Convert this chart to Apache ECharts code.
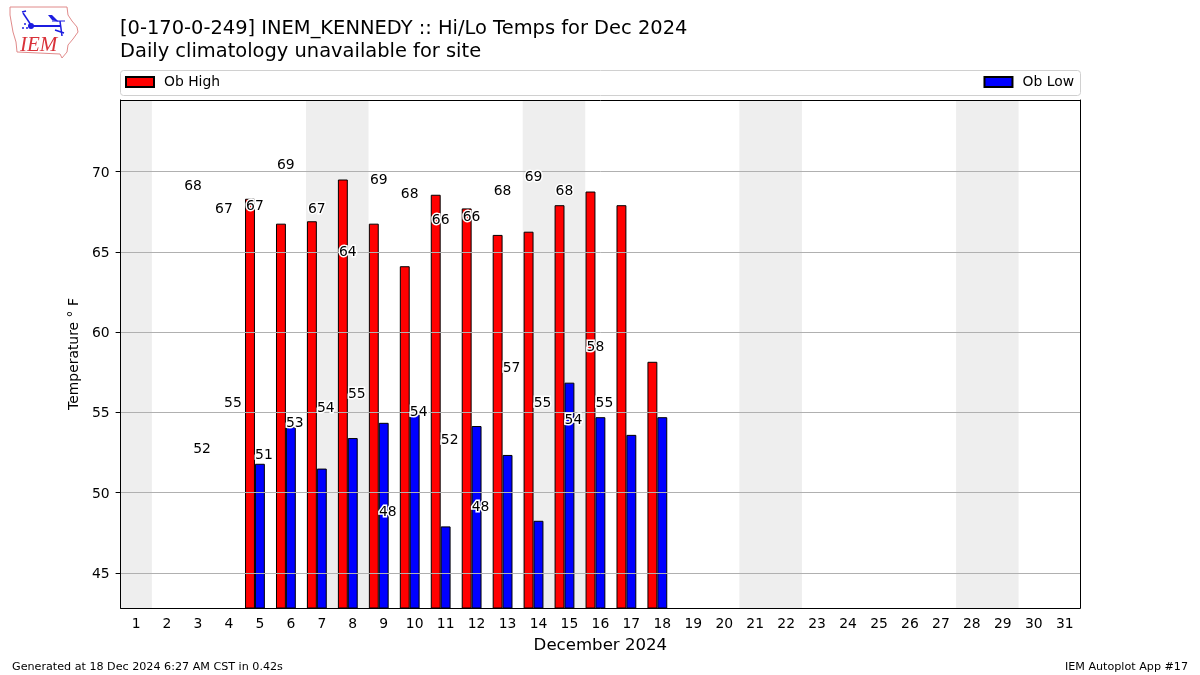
<!DOCTYPE html>
<html><head><meta charset="utf-8">
<style>html,body{margin:0;padding:0;background:#fff}#c{width:1200px;height:675px}</style>
<script src="https://cdn.jsdelivr.net/npm/echarts@6/dist/echarts.min.js"></script>
</head><body><div id="c"></div>
<script>
const days = ['1','2','3','4','5','6','7','8','9','10','11','12','13','14','15','16','17','18','19','20','21','22','23','24','25','26','27','28','29','30','31'];
const weekendDays = ['1','7','8','14','15','21','22','28','29'];
const barDays = ['5','6','7','8','9','10','11','12','13','14','15','16','17','18'];
const obHigh = [68.3,66.75,66.9,69.5,66.75,64.1,68.55,67.7,66.05,66.25,67.9,68.75,67.9,58.15];
const obLow = [51.8,54.1,51.5,53.4,54.35,54.9,47.9,54.15,52.35,48.25,56.85,54.7,53.6,54.7];
const labelDays = ['3','4','5','6','7','8','9','10','11','12','13','14','15','16'];
const highLabels = [68,67,67,69,67,64,69,68,66,66,68,69,68,58];
const highLabelY = [69.19,67.76,67.94,70.5,67.76,65.07,69.56,68.69,67.07,67.26,68.88,69.75,68.88,59.15];
const lowLabels = [52,55,51,53,54,55,48,54,52,48,57,55,54,55];
const lowLabelY = [52.79,55.66,52.42,54.41,55.35,56.22,48.87,55.10,53.35,49.18,57.84,55.66,54.60,55.66];
const yTicks = [45,50,55,60,65,70];
const yMin = 42.82, yMax = 74.45;

const FONT = '"DejaVu Sans"';
const pick = (ds, vs) => days.map(d => { const i = ds.indexOf(d); return i < 0 ? null : vs[i]; });
const labelSeries = (ys, texts, dx) => ({
  type: 'scatter', xAxisIndex: 0, yAxisIndex: 0, z: 6, symbolSize: 0.01, silent: true,
  itemStyle: { color: 'transparent', opacity: 1 },
  data: labelDays.map((d, i) => [d, ys[i], texts[i]]),
  label: { show: true, position: 'inside', offset: [dx, 2], fontFamily: FONT, fontSize: 13.9, color: '#000',
    textBorderColor: '#fff', textBorderWidth: 3, formatter: p => String(p.value[2]) }
});
const BLUE = '#1c1ce0';
const chart = echarts.init(document.getElementById('c'), null, { renderer: 'canvas' });
chart.setOption({
  animation: false,
  textStyle: { fontFamily: FONT },
  title: [
    { text: '[0-170-0-249] INEM_KENNEDY :: Hi/Lo Temps for Dec 2024\nDaily climatology unavailable for site', left: 115, top: 12,
      textStyle: { fontFamily: FONT, fontSize: 19.44, fontWeight: 'normal', color: '#000', lineHeight: 23 } },
    { text: 'Generated at 18 Dec 2024 6:27 AM CST in 0.42s', left: 7, top: 657,
      textStyle: { fontFamily: FONT, fontSize: 11.15, fontWeight: 'normal', color: '#000' } },
    { text: 'IEM Autoplot App #17', right: 7, top: 657,
      textStyle: { fontFamily: FONT, fontSize: 11.15, fontWeight: 'normal', color: '#000' } }
  ],
  legend: [
    { data: ['Ob High'], left: 120, top: 70, icon: 'rect', itemWidth: 28, itemHeight: 10, textStyle: { fontFamily: FONT, fontSize: 13.9, color: '#000', padding: [0,0,0,5] } },
    { data: ['Ob Low'], right: 121, top: 70, icon: 'rect', itemWidth: 28, itemHeight: 10, textStyle: { fontFamily: FONT, fontSize: 13.9, color: '#000', padding: [0,0,0,5] } }
  ],
  grid: { left: 120.6, top: 100, width: 959.6, height: 508, containLabel: false },
  xAxis: [
    { type: 'category', data: days, position: 'bottom', z: 4,
      name: 'December 2024', nameLocation: 'middle', nameGap: 29, nameTextStyle: { fontFamily: FONT, fontSize: 16.6, color: '#000' },
      axisLine: { onZero: false, lineStyle: { color: '#000', width: 1 } },
      axisTick: { alignWithLabel: true, length: 5, lineStyle: { color: '#000' } },
      axisLabel: { interval: 0, margin: 9, fontFamily: FONT, fontSize: 13.9, color: '#000' }, splitLine: { show: false } },
    { type: 'category', data: days, position: 'top', z: 4,
      axisLine: { onZero: false, lineStyle: { color: '#000', width: 1 } }, axisTick: { show: false }, axisLabel: { show: false }, splitLine: { show: false } }
  ],
  yAxis: [
    { type: 'value', min: yMin, max: yMax, interval: 5, position: 'left', z: 4,
      name: 'Temperature ° F', nameLocation: 'middle', nameGap: 36, nameTextStyle: { fontFamily: FONT, fontSize: 13.9, color: '#000' },
      axisLine: { onZero: false, show: true, lineStyle: { color: '#000', width: 1 } },
      axisTick: { show: true, length: 5, lineStyle: { color: '#000' }, customValues: yTicks },
      axisLabel: { margin: 11, fontFamily: FONT, fontSize: 13.9, color: '#000', customValues: yTicks, showMinLabel: true, showMaxLabel: true,
        formatter: '{v|{value}}', rich: { v: { fontFamily: FONT, fontSize: 13.9, color: '#000', padding: [3,0,0,0] } } },
      splitLine: { show: true, lineStyle: { color: '#b0b0b0', width: 1 } } },
    { type: 'value', min: yMin, max: yMax, position: 'right', z: 4,
      axisLine: { onZero: false, show: true, lineStyle: { color: '#000', width: 1 } }, axisTick: { show: false }, axisLabel: { show: false }, splitLine: { show: false } }
  ],
  graphic: [
    { type: 'rect', z: 0, shape: { x: 120.5, y: 70.5, width: 960, height: 25, r: 3 }, style: { fill: '#fff', stroke: '#d0d0d0', lineWidth: 1 } },
    { type: 'group', z: 1, children: [
      { type: 'polygon', shape: { points: [[10,7],[67,7],[68,15],[72,21],[77,27],[78,32],[73,39],[68,45],[67,52],[62,58],[60,54],[17,52],[16,42],[13,32],[10,15]] },
        style: { fill: '#fff', stroke: '#e08a8a', lineWidth: 1 } },
      { type: 'text', x: 20, y: 35, style: { text: 'IEM', fontFamily: '"Liberation Serif"', fontStyle: 'italic', fontSize: 21, fill: '#d9323a' } },
      { type: 'line', shape: { x1: 31, y1: 26, x2: 60, y2: 26 }, style: { stroke: BLUE, lineWidth: 2 } },
      { type: 'circle', shape: { cx: 31, cy: 26, r: 3 }, style: { fill: BLUE } },
      { type: 'line', shape: { x1: 31, y1: 25, x2: 23, y2: 13 }, style: { stroke: BLUE, lineWidth: 1.5 } },
      { type: 'line', shape: { x1: 22, y1: 12, x2: 26, y2: 11 }, style: { stroke: BLUE, lineWidth: 1.5 } },
      { type: 'circle', shape: { cx: 25, cy: 24, r: 1 }, style: { fill: BLUE } },
      { type: 'circle', shape: { cx: 23, cy: 28, r: 1 }, style: { fill: BLUE } },
      { type: 'circle', shape: { cx: 27, cy: 28, r: 1 }, style: { fill: BLUE } },
      { type: 'polygon', shape: { points: [[48,15],[52,15],[59,22],[52,20]] }, style: { fill: BLUE } },
      { type: 'line', shape: { x1: 52, y1: 21, x2: 65, y2: 21 }, style: { stroke: BLUE, lineWidth: 1 } },
      { type: 'line', shape: { x1: 60, y1: 21, x2: 62, y2: 36 }, style: { stroke: BLUE, lineWidth: 1.5 } },
      { type: 'line', shape: { x1: 55, y1: 30, x2: 64, y2: 33 }, style: { stroke: BLUE, lineWidth: 1.5 } }
    ] }
  ],
  series: [
    { name: 'shade', type: 'bar', xAxisIndex: 1, yAxisIndex: 0, z: 1, barWidth: '102%', silent: true,
      itemStyle: { color: '#eeeeee' },
      data: days.map(d => weekendDays.includes(d) ? yMax : null) },
    { name: 'Ob High', type: 'bar', xAxisIndex: 0, yAxisIndex: 0, z: 2, barWidth: '32%', barGap: 0,
      itemStyle: { color: '#ff0000', borderColor: '#000', borderWidth: 1 }, data: pick(barDays, obHigh) },
    { name: 'Ob Low', type: 'bar', xAxisIndex: 0, yAxisIndex: 0, z: 2, barWidth: '32%', barGap: 0,
      itemStyle: { color: '#0000ff', borderColor: '#000', borderWidth: 1 }, data: pick(barDays, obLow) },
    { name: 'slot', type: 'bar', xAxisIndex: 0, yAxisIndex: 0, z: 2, barWidth: '32%', barGap: 0, data: days.map(() => null) },
    labelSeries(highLabelY, highLabels, -5),
    labelSeries(lowLabelY, lowLabels, 4)
  ]
});
</script></body></html>
